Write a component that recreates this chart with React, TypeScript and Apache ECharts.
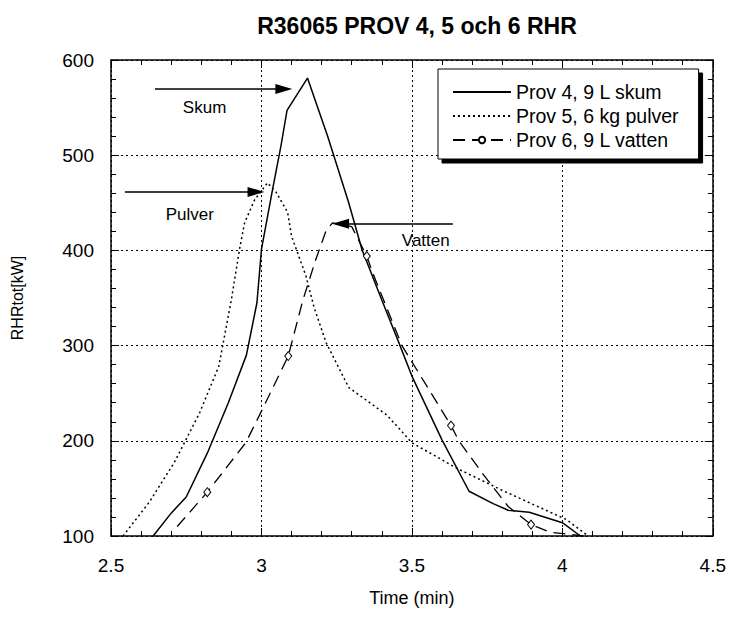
import React, { useEffect, useRef } from "react";
import * as echarts from "echarts";

const FONT = "'Liberation Sans', Arial, Helvetica, sans-serif";

const titleText = "R36065 PROV 4, 5 och 6 RHR";
const xAxisName = "Time (min)";
const yAxisName = "RHRtot[kW]";
const seriesNames = ["Prov 4, 9 L skum", "Prov 5, 6 kg pulver", "Prov 6, 9 L vatten"];

const xMin = 2.5;
const xMax = 4.5;
const xStep = 0.5;
const yMin = 100;
const yMax = 600;
const yStep = 100;

// Prov 4 (skum) – solid
const skum: [number, number][] = [
  [2.64, 100], [2.7, 124], [2.75, 141], [2.82, 187], [2.89, 240], [2.95, 290],
  [2.985, 345], [3.0, 401], [3.037, 464], [3.065, 510], [3.085, 547], [3.153, 581],
  [3.22, 520], [3.29, 450], [3.334, 401], [3.4, 348], [3.453, 306], [3.5, 268],
  [3.6, 201], [3.69, 147], [3.77, 134], [3.82, 127], [3.89, 125], [4.0, 114], [4.06, 100],
];

// Prov 5 (pulver) – dotted
const pulver: [number, number][] = [
  [2.54, 100], [2.626, 135], [2.71, 177], [2.794, 229], [2.858, 278], [2.9, 348],
  [2.927, 401], [2.944, 429], [2.977, 453], [3.02, 471], [3.049, 461], [3.087, 440],
  [3.1, 415], [3.148, 373], [3.175, 340], [3.215, 303], [3.29, 256], [3.417, 227],
  [3.5, 198], [3.65, 171], [3.8, 148], [4.015, 117], [4.086, 100],
];

// Prov 6 (vatten) – dashed with markers
const vatten: [number, number][] = [
  [2.72, 110], [2.82, 146], [2.948, 198], [3.003, 233], [3.089, 289], [3.138, 348],
  [3.18, 390], [3.214, 420], [3.236, 429], [3.3, 425], [3.35, 394], [3.374, 373],
  [3.467, 300], [3.63, 216], [3.656, 200], [3.734, 166], [3.82, 131], [3.896, 112],
  [3.96, 104], [4.07, 100],
];
const vattenMarkerX = [2.82, 3.089, 3.35, 3.63, 3.896];

// annotation texts and arrows (data coordinates)
const annoText = ["Skum", "Pulver", "Vatten"];
const annoTextPos: [number, number][] = [[2.811, 550.5], [2.762, 438], [3.546, 410]];
const arrowFrom: [number, number][] = [[2.646, 569.5], [2.546, 461.4], [3.636, 428]];
const arrowTo: [number, number][] = [[3.0745, 569.5], [2.982, 461.4], [3.263, 428]];

export default function App() {
  const ref = useRef<HTMLDivElement>(null);

  useEffect(() => {
    if (!ref.current) return;
    const chart = echarts.init(ref.current, null, { renderer: "svg" });

    const black = "#000";
    const clear = "rgba(0,0,0,0)";
    const lineStyles = [
      { color: black, width: 1.5, type: "solid" },
      { color: black, width: 1.5, type: [2, 3] },
      { color: black, width: 1.3, type: [12, 7] },
    ];

    const annotation = (i: number) => ({
      markLine: {
        silent: true,
        animation: false,
        label: { show: false },
        emphasis: { disabled: true },
        lineStyle: { type: "solid", color: black, width: 1.5 },
        data: [
          [
            { coord: arrowFrom[i], symbol: "none" },
            { coord: arrowTo[i], symbol: "triangle", symbolSize: [10, 17] },
          ],
        ],
      },
      markPoint: {
        silent: true,
        animation: false,
        symbol: "rect",
        symbolSize: 1,
        itemStyle: { color: clear },
        label: {
          show: true,
          position: "inside",
          formatter: annoText[i],
          color: black,
          fontSize: 17,
          fontFamily: FONT,
        },
        data: [{ coord: annoTextPos[i] }],
      },
    });

    const tickCfg = {
      axisLine: { show: true, onZero: false, lineStyle: { color: black, width: 1.5 } },
      axisTick: { show: true, inside: true, length: 8, lineStyle: { color: black, width: 1 } },
      minorTick: { show: true, splitNumber: 5, length: 5, lineStyle: { color: black, width: 1 } },
    };
    const baseAxisX = { type: "value", min: xMin, max: xMax, interval: xStep, ...tickCfg };
    const baseAxisY = { type: "value", min: yMin, max: yMax, interval: yStep, ...tickCfg };
    const gridLine = { show: true, lineStyle: { color: black, width: 1, type: [2, 3] } };

    chart.setOption({
      animation: false,
      backgroundColor: "#fff",
      textStyle: { fontFamily: FONT, color: black },
      title: {
        text: titleText,
        left: 412,
        top: 9,
        textAlign: "center",
        textStyle: { fontSize: 23, fontWeight: "bold", color: black, fontFamily: FONT },
      },
      grid: { left: 111, right: 16, top: 60, bottom: 82 },
      legend: {
        orient: "vertical",
        left: 438,
        top: 69,
        padding: [13, 20, 9, 14],
        itemGap: 4,
        itemWidth: 58,
        itemHeight: 8,
        backgroundColor: "#fff",
        borderColor: black,
        borderWidth: 1,
        shadowColor: black,
        shadowBlur: 0,
        shadowOffsetX: 4,
        shadowOffsetY: 4,
        textStyle: { fontSize: 19.5, color: black, fontFamily: FONT },
        data: [
          { name: seriesNames[0], itemStyle: { color: clear, borderColor: clear, borderWidth: 0 } },
          { name: seriesNames[1], itemStyle: { color: clear, borderColor: clear, borderWidth: 0 } },
          { name: seriesNames[2], itemStyle: { color: black } },
        ],
      },
      xAxis: [
        {
          ...baseAxisX,
          position: "bottom",
          splitLine: gridLine,
          axisLabel: { color: black, fontSize: 19, margin: 20, fontFamily: FONT },
          name: xAxisName,
          nameLocation: "middle",
          nameGap: 53,
          nameTextStyle: { fontSize: 18, color: black, fontFamily: FONT },
        },
        {
          ...baseAxisX,
          position: "top",
          splitLine: { show: false },
          axisLabel: { show: false },
        },
      ],
      yAxis: [
        {
          ...baseAxisY,
          position: "left",
          splitLine: gridLine,
          axisLabel: { color: black, fontSize: 19, margin: 17, fontFamily: FONT },
          name: yAxisName,
          nameLocation: "middle",
          nameGap: 86,
          nameTextStyle: { fontSize: 16, color: black, fontFamily: FONT },
        },
        {
          ...baseAxisY,
          position: "right",
          splitLine: { show: false },
          axisLabel: { show: false },
        },
      ],
      series: [
        {
          name: seriesNames[0],
          type: "line",
          data: skum,
          symbol: "none",
          lineStyle: lineStyles[0],
          itemStyle: { color: black },
          emphasis: { disabled: true },
          silent: true,
          z: 3,
          ...annotation(0),
        },
        {
          name: seriesNames[1],
          type: "line",
          data: pulver,
          symbol: "none",
          lineStyle: lineStyles[1],
          itemStyle: { color: black },
          emphasis: { disabled: true },
          silent: true,
          z: 3,
          ...annotation(1),
        },
        {
          name: seriesNames[2],
          type: "line",
          data: vatten.map((p) => ({
            value: p,
            symbol: vattenMarkerX.includes(p[0]) ? "diamond" : "none",
          })),
          symbol: "emptyCircle",
          symbolSize: [7, 9],
          showSymbol: true,
          showAllSymbol: true,
          lineStyle: lineStyles[2],
          itemStyle: { color: "#fff", borderColor: black, borderWidth: 1 },
          emphasis: { disabled: true },
          silent: true,
          z: 3,
          ...annotation(2),
        },
      ],
    });

    return () => chart.dispose();
  }, []);

  return (
    <div
      ref={ref}
      style={{ position: "fixed", left: 0, top: 0, width: 729, height: 618, background: "#fff" }}
    />
  );
}
